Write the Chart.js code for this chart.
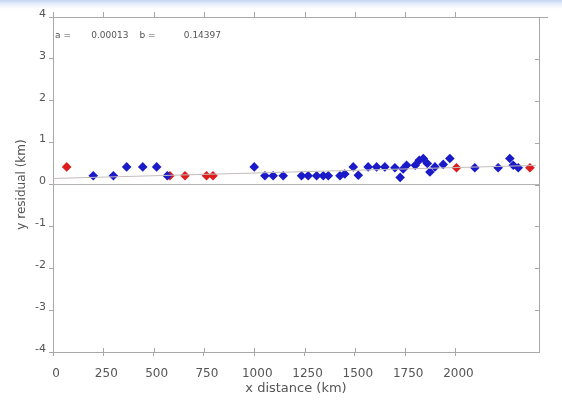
<!DOCTYPE html>
<html>
<head>
<meta charset="utf-8">
<script src="https://cdn.jsdelivr.net/npm/chart.js@4.4.0/dist/chart.umd.min.js"></script>
<style>
  html, body { margin: 0; padding: 0; }
  body { width: 562px; height: 404px; background: linear-gradient(to bottom, #c4d4f0 0px, #e6eefa 4px, #ffffff 9px); }
  #wrap { position: relative; width: 562px; height: 404px; }
  canvas { display: block; filter: blur(0.4px); }
</style>
</head>
<body>
<div id="wrap"><canvas id="c" width="562" height="404"></canvas></div>
<script>
// ---- data ----
const blueX = [200, 300, 366, 446, 515, 568, 1000, 1053, 1094, 1144, 1235, 1268, 1310, 1343, 1368, 1426, 1450, 1492, 1517, 1566, 1608, 1649, 1699, 1725, 1740, 1757, 1800, 1820, 1840, 1860, 1873, 1898, 1939, 1972, 2096, 2212, 2270, 2287, 2312];
const blueY = [0.21, 0.21, 0.42, 0.42, 0.42, 0.21, 0.42, 0.21, 0.21, 0.21, 0.21, 0.21, 0.21, 0.21, 0.21, 0.21, 0.25, 0.42, 0.22, 0.42, 0.42, 0.42, 0.40, 0.17, 0.37, 0.46, 0.46, 0.58, 0.62, 0.50, 0.30, 0.42, 0.48, 0.62, 0.40, 0.40, 0.62, 0.46, 0.40];
const redX = [68, 581, 656, 763, 795, 2005, 2370];
const redY = [0.42, 0.21, 0.21, 0.21, 0.21, 0.40, 0.40];
const fitX = [0, 2400];
const fitY = [0.144, 0.456];
const zeroX = [0, 2415];
const xTicks = [0, 250, 500, 750, 1000, 1250, 1500, 1750, 2000];
const yTicks = [-4, -3, -2, -1, 0, 1, 2, 3, 4];
const annText = ["a =", "0.00013", "b =", "0.14397"];
const annAt = [0, 180, 420, 640];

const pts = (xs, ys) => xs.map((x, i) => ({ x: x, y: ys[i] }));
const FONT = "'DejaVu Sans', sans-serif";
const AX = '#a8a8a8';
const TXT = '#555555';

const framePlugin = {
  id: 'frame',
  afterDraw(chart) {
    const { ctx, chartArea: a, scales } = chart;
    ctx.save();
    ctx.strokeStyle = AX;
    ctx.lineWidth = 1;
    ctx.beginPath();
    ctx.moveTo(a.left, a.top + 0.5); ctx.lineTo(a.right + 9, a.top + 0.5);
    ctx.moveTo(a.right + 0.5, a.top); ctx.lineTo(a.right + 0.5, a.bottom);
    xTicks.forEach(v => {
      const px = Math.round(scales.x.getPixelForValue(v)) + 0.5;
      ctx.moveTo(px, a.top); ctx.lineTo(px, a.top - 5);
      ctx.moveTo(px, a.bottom); ctx.lineTo(px, a.bottom - 4);
    });
    yTicks.forEach(v => {
      const py = Math.round(scales.y.getPixelForValue(v)) + 0.5;
      ctx.moveTo(a.right, py); ctx.lineTo(a.right - 4, py);
    });
    ctx.stroke();
    ctx.fillStyle = TXT;
    ctx.font = "9px " + FONT;
    ctx.textBaseline = 'middle';
    const ty = scales.y.getPixelForValue(3.55);
    annText.forEach((t, i) => {
      ctx.fillText(t, scales.x.getPixelForValue(annAt[i]) + 2, ty);
    });
    ctx.restore();
  }
};

new Chart(document.getElementById('c'), {
  type: 'scatter',
  data: {
    datasets: [
      { type: 'line', data: pts(zeroX, [0, 0]), borderColor: '#b4b4b4', borderWidth: 1, pointRadius: 0, fill: false },
      { type: 'line', data: pts(fitX, fitY), borderColor: '#c4bcbc', borderWidth: 1, pointRadius: 0, fill: false },
      { data: pts(blueX, blueY), pointStyle: 'rectRot', pointRadius: 4.8, backgroundColor: '#1a1ac8', borderColor: '#1a1ac8', borderWidth: 0 },
      { data: pts(redX, redY), pointStyle: 'rectRot', pointRadius: 4.8, backgroundColor: '#dd1c1c', borderColor: '#dd1c1c', borderWidth: 0 }
    ]
  },
  options: {
    responsive: false,
    animation: false,
    events: [],
    layout: { padding: { top: 17, right: 23, left: 0, bottom: 0 } },
    plugins: { legend: { display: false }, tooltip: { enabled: false } },
    scales: {
      x: {
        type: 'linear', min: 0, max: 2415,
        afterFit: s => { s.height = 52; },
        afterBuildTicks: s => { s.ticks = xTicks.map(v => ({ value: v })); },
        grid: { display: true, drawOnChartArea: false, drawTicks: true, tickLength: 4, color: AX },
        border: { display: true, color: AX },
        ticks: { color: TXT, font: { family: FONT, size: 12 }, padding: 11, maxRotation: 0, labelOffset: 3, callback: v => String(v) },
        title: { display: true, text: 'x distance (km)', color: TXT, font: { family: FONT, size: 13 }, padding: { top: 0, bottom: 8 } }
      },
      y: {
        type: 'linear', min: -4, max: 4,
        afterFit: s => { s.width = 53; },
        afterBuildTicks: s => { s.ticks = yTicks.map(v => ({ value: v })); },
        grid: { display: true, drawOnChartArea: false, drawTicks: true, tickLength: 4, color: AX },
        border: { display: true, color: AX },
        ticks: { color: TXT, font: { family: FONT, size: 11 }, padding: 3, labelOffset: -3, callback: v => String(v) },
        title: { display: true, text: 'y residual (km)', color: TXT, font: { family: FONT, size: 12 }, padding: { top: 15, bottom: 0 } }
      }
    }
  },
  plugins: [framePlugin]
});
</script>
</body>
</html>
